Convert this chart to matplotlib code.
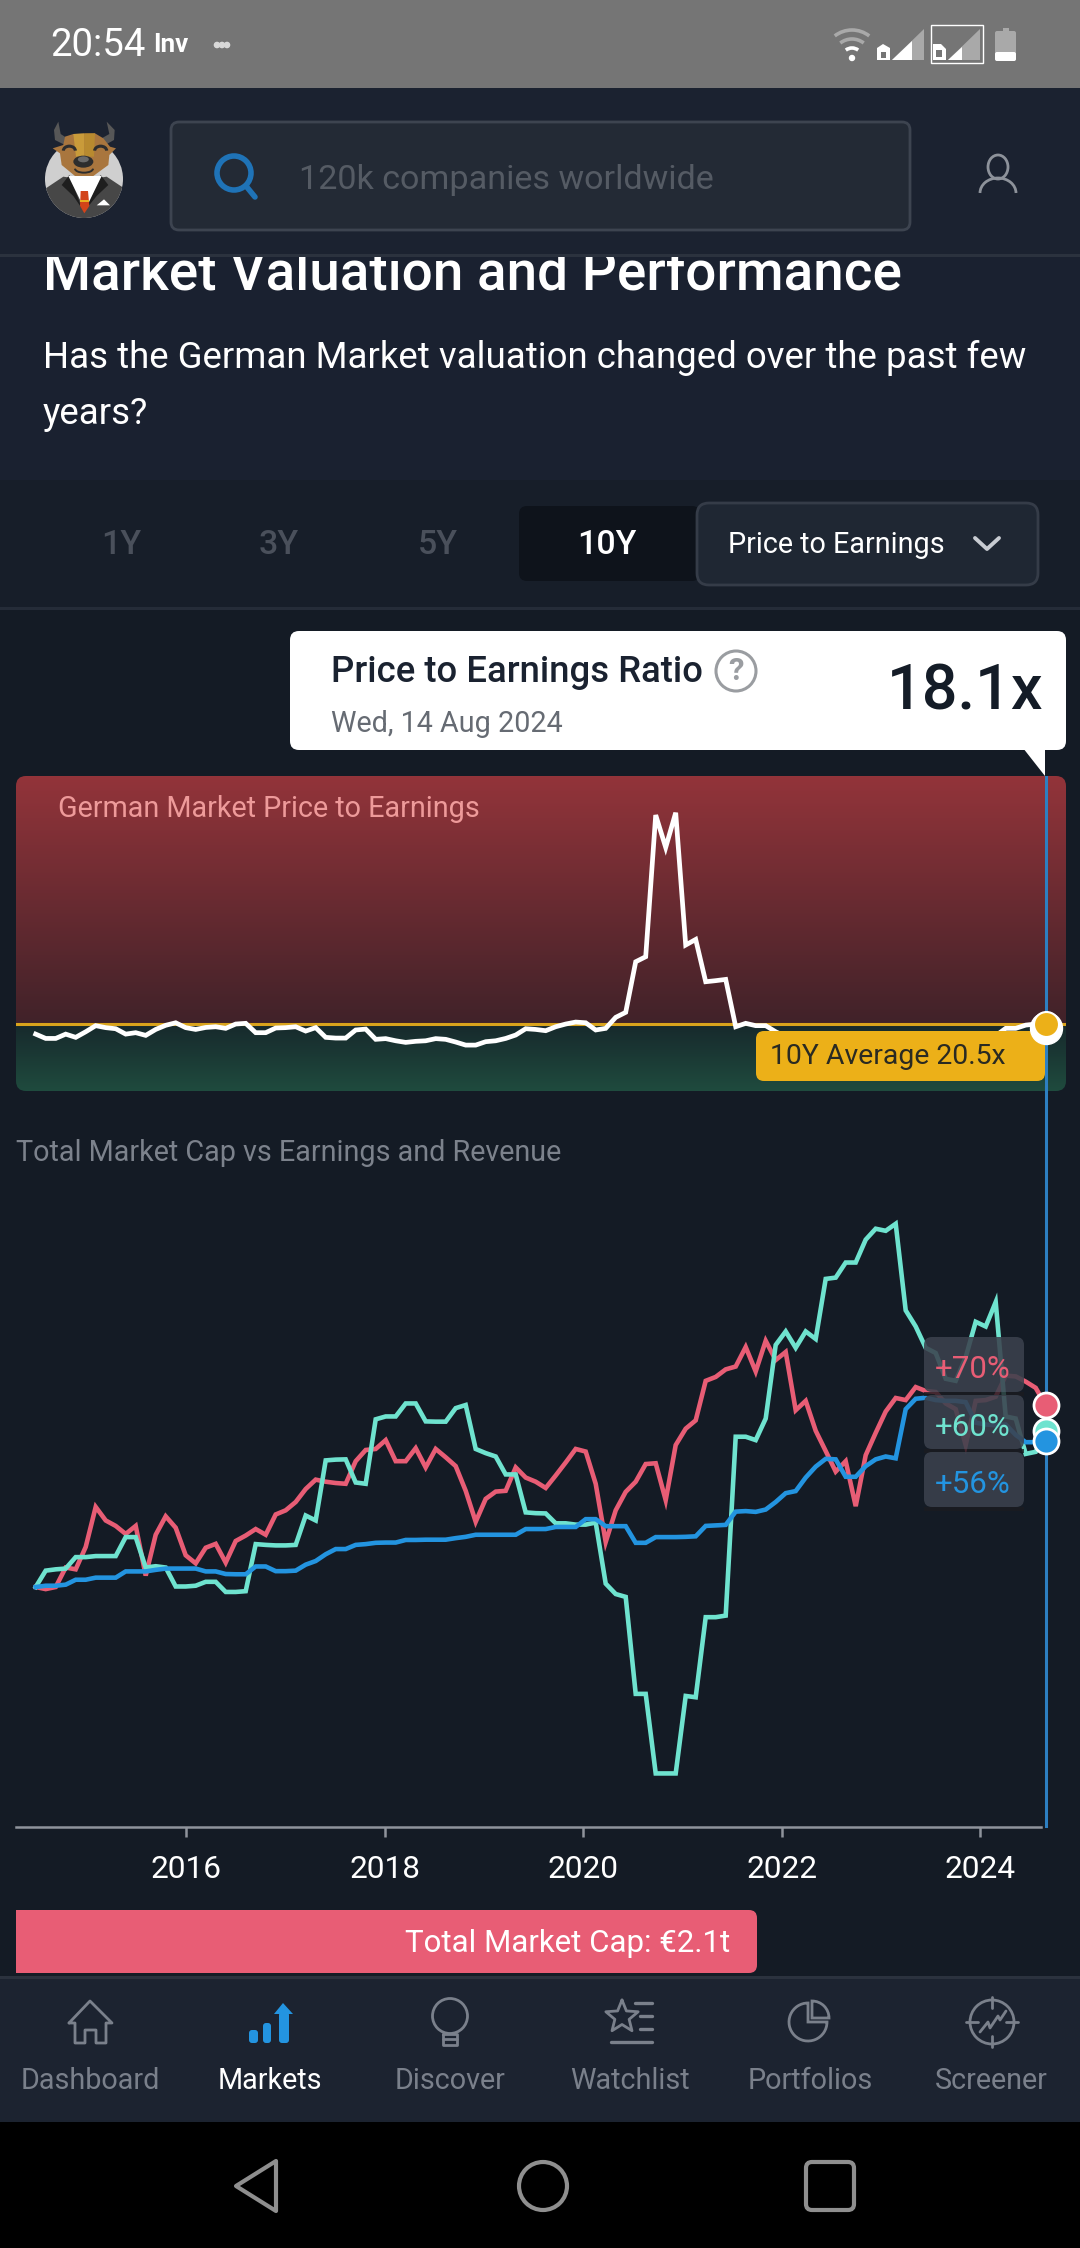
import matplotlib
matplotlib.use('Agg')
from matplotlib import pyplot as plt
from matplotlib.patches import FancyBboxPatch, Rectangle, Circle, Ellipse, Polygon, Wedge, Arc
import numpy as np

plt.rcParams['font.family'] = ['Roboto', 'DejaVu Sans']

# German market P/E, 102 samples over 10 years (hidden part behind the label is a guess)
pe_ratio = [14.9, 12.5, 12.5, 14.9, 13.1, 16.2, 19.6, 18.5, 17.9, 14.9, 15.7, 14.2, 17.5, 19.8, 21.2, 18.5, 17.5,
            18.6, 19.0, 18.1, 20.5, 20.9, 15.7, 15.7, 18.3, 18.5, 19.0, 16.6, 18.5, 13.1, 12.7, 12.7, 17.2, 17.7,
            12.0, 12.4, 11.2, 10.3, 10.9, 11.2, 12.4, 12.0, 10.5, 8.8, 8.8, 10.7, 11.2, 12.5, 14.4, 17.9, 17.5,
            16.8, 19.0, 20.5, 21.6, 21.2, 17.2, 18.1, 24.2, 27.0, 55.1, 57.9, 136.6, 118.6, 137.9, 64.4, 67.5,
            44.0, 44.6, 45.3, 19.0, 20.9, 19.6, 19.6, 16.2, 13.5, 13.0, 13.5, 14.0, 13.5, 13.0, 12.5, 13.0, 13.5,
            14.0, 14.0, 13.5, 13.0, 13.5, 14.0, 14.0, 13.5, 13.5, 14.0, 14.0, 14.0, 14.0, 18.1, 18.1, 19.9, 20.5, 18.1]
pe_average = 20.5

# percent change since the start
market_cap = [0, -0.8, 0, 7.5, 6.8, 15.4, 30.8, 25.6, 23.5, 20.4, 23.5, 4.4, 20.1, 27.2, 22.8, 12.2, 9.1, 15.1, 16.6,
              9.4, 17.7, 19.8, 22.3, 20.1, 27.9, 29.5, 32.7, 37.7, 41.3, 40.5, 40.0, 39.7, 48.4, 52.7, 53.1, 56.5,
              48.4, 48.4, 53.4, 46.0, 53.1, 49.9, 46.5, 37.0, 25.1, 33.9, 36.7, 37.0, 46.0, 42.1, 40.5, 38.1, 42.9,
              47.9, 53.1, 52.1, 39.7, 17.3, 29.5, 36.6, 40.5, 47.3, 47.6, 33.4, 54.6, 60.9, 64.1, 79.3, 80.8, 83.7,
              84.8, 92.3, 82.9, 94.7, 87.3, 90.4, 68.0, 71.6, 60.1, 52.3, 44.4, 48.4, 31.1, 50.7, 59.3, 67.5, 72.7,
              71.9, 76.9, 75.4, 75.0, 70.6, 68.4, 54.6, 71.6, 71.9, 73.2, 81.3, 81.0, 79.0, 76.6, 69.9]
earnings = [0, 6.3, 6.8, 7.1, 11.5, 11.5, 11.9, 11.9, 11.9, 19.2, 19.2, 7.5, 8.0, 7.5, 0.2, 0.2, 0.5, 2.0, 2.0, -1.9,
            -1.9, -1.6, 16.5, 16.2, 16.0, 16.0, 16.2, 27.5, 25.6, 48.7, 49.0, 49.1, 40.2, 39.7, 64.5, 65.6, 65.6,
            70.6, 70.6, 63.7, 63.6, 63.6, 68.8, 70.0, 53.1, 51.5, 50.2, 43.3, 43.3, 28.7, 28.4, 28.3, 24.5, 24.5,
            24.0, 24.0, 24.8, 1.3, -2.7, -3.8, -41.1, -41.1, -71.7, -71.7, -71.7, -41.9, -42.4, -11.6, -11.6, -11.0,
            57.8, 57.8, 56.5, 64.8, 93.1, 98.3, 92.0, 98.3, 95.4, 118.5, 119.0, 124.8, 124.8, 133.6, 137.8, 137.0,
            139.7, 106.4, 100.2, 92.0, 90.0, 80.1, 79.3, 88.4, 102.0, 100.2, 109.6, 65.6, 64.8, 51.2, 52.0, 60.1]
revenue = [0, 0.5, 0.5, 0.9, 2.8, 2.8, 3.6, 3.6, 3.6, 6.0, 6.0, 6.0, 6.6, 7.1, 7.1, 7.1, 7.1, 6.0, 6.0, 5.0, 4.9, 4.9,
           7.9, 7.9, 6.1, 6.1, 6.3, 8.6, 10.0, 12.6, 14.6, 14.6, 16.2, 16.5, 17.0, 17.1, 17.1, 18.1, 18.1, 18.2, 18.2,
           18.2, 18.8, 19.3, 20.1, 20.1, 20.1, 20.1, 20.1, 22.3, 22.3, 22.3, 23.1, 23.1, 23.1, 26.1, 26.1, 23.4, 23.4,
           23.4, 17.0, 17.0, 19.2, 19.2, 19.2, 19.3, 19.5, 23.5, 23.7, 23.9, 29.0, 29.2, 28.9, 29.8, 32.7, 36.1, 36.9,
           42.1, 46.3, 49.3, 49.1, 42.4, 42.4, 46.5, 49.1, 50.2, 49.5, 68.4, 72.4, 72.8, 71.9, 71.6, 71.6, 71.1, 63.2,
           62.5, 62.2, 62.5, 58.5, 55.7, 55.7, 56.2]

year_pos = [15.03, 34.93, 54.73, 74.63, 94.43]
year_labels = ['2016', '2018', '2020', '2022', '2024']
change_labels = ['+70%', '+60%', '+56%']
nav_labels = ['Dashboard', 'Markets', 'Discover', 'Watchlist', 'Portfolios', 'Screener']
tab_labels = ['1Y', '3Y', '5Y']

RED = '#e85d75'
TEAL = '#6fe3cf'
BLUE = '#2394e0'
YELLOW = '#ecb018'
W, H = 1080, 2248

fig = plt.figure(figsize=(W / 100, H / 100), dpi=100, facecolor='#141b25')

ui = fig.add_axes([0, 0, 1, 1], zorder=0)
ui.set_xlim(0, W)
ui.set_ylim(H, 0)
ui.axis('off')


def label(axis, x, y, s, px, color='white', ha='left', weight='normal', z=20, **kw):
    axis.text(x, y + 2, s, fontsize=px * 0.72, color=color, ha=ha, va='center', fontweight=weight, zorder=z,
              transform=ui.transData, **kw)


def rect(x0, y0, x1, y1, color, z=1, **kw):
    ui.add_patch(Rectangle((x0, y0), x1 - x0, y1 - y0, facecolor=color, edgecolor='none', zorder=z, **kw))


def rbox(axis, x0, y0, x1, y1, r, color, edge='none', lw=0, z=2, alpha=None):
    p = FancyBboxPatch((x0 + r, y0 + r), x1 - x0 - 2 * r, y1 - y0 - 2 * r, boxstyle=f'round,pad={r}',
                       facecolor=color, edgecolor=edge, linewidth=lw, zorder=z, alpha=alpha,
                       transform=ui.transData)
    axis.add_patch(p)
    return p


def stroke(xs, ys, color, lw=2.0, z=12):
    ui.plot(xs, ys, color=color, lw=lw, zorder=z, solid_capstyle='round', solid_joinstyle='round')


def logo(pts, color, z, clip=None):
    p = Polygon([(30 + a / 3, 110 + b / 3) for a, b in pts], color=color, lw=0, zorder=z)
    ui.add_patch(p)
    if clip is not None:
        p.set_clip_path(clip)


# page sections
rect(0, 255, W, 480, '#1a2130')
rect(0, 480, W, 608, '#171e29')
rect(0, 607, W, 610, '#252c38', z=2)

label(ui, 43, 272, 'Market Valuation and Performance', 54.9, weight='medium', z=3)
label(ui, 43, 356, 'Has the German Market valuation changed over the past few', 36.6)
label(ui, 43, 412, 'years?', 36.6)

# status bar and header sit on top of the scrolled title
rect(0, 0, W, 88, '#757575', z=5)
rect(0, 88, W, 254, '#1b2230', z=5)
rect(0, 254, W, 257, '#2b323e', z=5)
label(ui, 50, 44, '20:54', 38.4, z=12)
label(ui, 153, 43, 'Inv', 26, weight='bold', z=12)
for cx in [217, 222, 227]:
    ui.add_patch(Circle((cx, 45), 2.6, color='#d8d8d8', zorder=12))

# wifi, signal, battery
for r, c in [(28, '#a9a9a9'), (19, '#a9a9a9'), (10, 'white')]:
    ui.add_patch(Arc((852, 58), r * 2, r * 2, theta1=232, theta2=308, color=c, lw=2.6, zorder=12))
ui.add_patch(Circle((852, 58), 2.5, color='white', zorder=12))
ui.add_patch(Polygon([(892, 60), (924, 29), (924, 60)], color='#a9a9a9', lw=0, zorder=12))
ui.add_patch(Polygon([(892, 60), (912, 41), (912, 60)], color='white', lw=0, zorder=12))
ui.add_patch(Polygon([(877, 60), (877, 48), (883, 44), (890, 48), (890, 60)], color='white', lw=0, zorder=12))
rect(881, 52, 886, 58, '#757575', z=13)
ui.add_patch(Rectangle((931, 25), 52, 38, facecolor='none', edgecolor='white', lw=1, zorder=12))
ui.add_patch(Polygon([(948, 60), (980, 29), (980, 60)], color='#a9a9a9', lw=0, zorder=12))
ui.add_patch(Polygon([(948, 60), (962, 47), (962, 60)], color='white', lw=0, zorder=12))
ui.add_patch(Polygon([(933, 60), (933, 44), (941, 44), (946, 49), (946, 60)], color='white', lw=0, zorder=12))
rect(936, 50, 942, 57, '#757575', z=13)
rbox(ui, 995, 31, 1016, 61, 2, '#a9a9a9', z=12)
rect(1003, 28, 1009, 32, '#a9a9a9', z=12)
rbox(ui, 995, 52, 1016, 61, 2, 'white', z=13)

# logo
disc = Ellipse((84, 179), 78, 78, color='#cfcfcf', lw=0, zorder=6)
ui.add_patch(disc)
logo([(40, 240), (100, 200), (165, 210), (230, 200), (290, 240), (290, 340), (40, 340)], '#474747', 7, clip=disc)
logo([(95, 225), (118, 195), (150, 280), (162, 305), (130, 258)], '#1e1e1e', 8)
logo([(235, 225), (212, 195), (176, 280), (162, 305), (200, 258)], '#1e1e1e', 8)
logo([(115, 198), (215, 198), (165, 300)], 'white', 8)
logo([(152, 243), (174, 243), (178, 288), (163, 310), (150, 288)], '#d2431a', 9)
logo([(151, 270), (176, 270), (176, 276), (151, 276)], '#e8b020', 10)
logo([(200, 286), (240, 286), (222, 268)], 'white', 9)
logo([(85, 35), (72, 60), (75, 90), (105, 105), (112, 85), (92, 72)], '#575757', 7)
logo([(230, 35), (254, 60), (252, 90), (225, 105), (215, 85), (238, 72)], '#575757', 7)
logo([(105, 80), (130, 72), (195, 70), (220, 85), (240, 110), (258, 115), (238, 135), (235, 165), (190, 198),
      (135, 198), (95, 165), (90, 130), (68, 115), (100, 105)], '#a9763e', 9)
logo([(130, 72), (163, 70), (163, 140), (138, 140)], '#c99b3a', 10)
logo([(163, 70), (195, 70), (192, 140), (163, 140)], '#b88a2f', 10)
ui.add_patch(Ellipse((30 + 160 / 3, 110 + 155 / 3), 20, 12, color='#2d2d2d', lw=0, zorder=11))
ui.add_patch(Ellipse((30 + 160 / 3, 110 + 148 / 3), 11, 6, color='#6a6a6a', lw=0, zorder=12))
ui.add_patch(Arc((30 + 118 / 3, 110 + 122 / 3), 12, 9, theta1=180, theta2=360, color='#2d2d2d', lw=2.2, zorder=11))
ui.add_patch(Arc((30 + 212 / 3, 110 + 122 / 3), 12, 9, theta1=180, theta2=360, color='#2d2d2d', lw=2.2, zorder=11))
ui.add_patch(Arc((30 + 162 / 3, 110 + 176 / 3), 18, 8, theta1=0, theta2=180, color='#2d2d2d', lw=1.4, zorder=11))

# search box
rbox(ui, 171, 122, 910, 230, 8, '#232a35', edge='#3d4450', lw=2, z=6)
ui.add_patch(Circle((234, 173), 17, facecolor='none', edgecolor='#1f73b7', lw=4, zorder=8))
stroke([246, 255], [186, 197], '#1f73b7', lw=4, z=8)
label(ui, 299, 178, '120k companies worldwide', 34.1, color='#555b64', z=8)
ui.add_patch(Ellipse((998, 167), 20, 24, facecolor='none', edgecolor='#8d929a', lw=2, zorder=8))
ui.add_patch(Arc((998, 193), 36, 30, theta1=180, theta2=360, color='#8d929a', lw=2, zorder=8))

# range tabs
for x_tab, s in zip([121, 279, 438], tab_labels):
    label(ui, x_tab, 543, s, 34, color='#4a505b', ha='center', weight='medium')
rbox(ui, 519, 506, 700, 581, 8, '#0e131b', z=3)
label(ui, 607, 543, '10Y', 34, ha='center', weight='medium')
rbox(ui, 697, 503, 1038, 585, 12, '#1f2733', edge='#353c48', lw=2, z=4)
label(ui, 728, 543, 'Price to Earnings', 28.8)
stroke([975, 987, 999], [538, 549, 538], '#c8ccd2', lw=2.8)

# tooltip
rbox(ui, 290, 631, 1066, 750, 9, 'white', z=6)
ui.add_patch(Polygon([(1023, 748), (1045, 748), (1045, 776)], color='white', lw=0, zorder=6))
label(ui, 331, 671, 'Price to Earnings Ratio', 36.5, color='#1a2230', weight='medium')
ui.add_patch(Circle((736, 671), 20, facecolor='none', edgecolor='#9a9da1', lw=2.2, zorder=8))
label(ui, 736, 669, '?', 31, color='#9a9da1', ha='center', weight='bold')
label(ui, 331, 722, 'Wed, 14 Aug 2024', 28.7, color='#666b73')
label(ui, 1044, 690, '18.1x', 63, color='#141c27', ha='right', weight='medium')

label(ui, 16, 1151, 'Total Market Cap vs Earnings and Revenue', 28.7, color='#7c828c')


def px_axes(x0, y0, x1, y1):
    a = fig.add_axes([x0 / W, 1 - y1 / H, (x1 - x0) / W, (y1 - y0) / H], zorder=1)
    a.patch.set_alpha(0)
    return a


x = np.arange(len(pe_ratio))
xlim = (-1.97, 103.03)

# P/E panel
ax_pe = px_axes(16, 776, 1066, 1091)
ax_pe.set_xlim(*xlim)
ax_pe.set_ylim(-16.7, 158.3)
ax_pe.axis('off')

top = np.array(matplotlib.colors.to_rgb('#93343a'))
mid = np.array(matplotlib.colors.to_rgb('#402229'))
low = np.array(matplotlib.colors.to_rgb('#17292c'))
end = np.array(matplotlib.colors.to_rgb('#1f4b3e'))
split = 248
grad = np.vstack([np.linspace(top, mid, split), np.linspace(low, end, 315 - split)])[:, None, :]
clip = FancyBboxPatch((26, 786), 1030, 295, boxstyle='round,pad=10', transform=ui.transData)
img = ax_pe.imshow(grad, extent=[*xlim, -16.7, 158.3], aspect='auto', zorder=0)
img.set_clip_path(clip)

ax_pe.plot(x, pe_ratio, color='white', lw=3.4, solid_joinstyle='miter', zorder=3)
ax_pe.axhline(pe_average, color='#d9a31c', lw=2.2, zorder=2)
ax_pe.axvline(x[-1], color='#2d7fc1', lw=2.2, zorder=4)
rbox(ax_pe, 756, 1031, 1045, 1081, 8, YELLOW, z=5)
label(ax_pe, 770, 1055, '10Y Average 20.5x', 28.4, color='#2a2a22', z=6)
label(ax_pe, 58, 807, 'German Market Price to Earnings', 28.8, color='#ee9a9a', z=6)
ax_pe.plot(x[-1], pe_ratio[-1], 'o', ms=23, color='white', zorder=6, clip_on=False)
ax_pe.plot(x[-1], pe_average, 'o', ms=18, color=YELLOW, mec='white', mew=1.5, zorder=7, clip_on=False)

# cap / earnings / revenue chart, the cursor line runs up to the panel above
ax = px_axes(16, 1200, 1066, 1827)
ax.set_xlim(*xlim)
ax.set_ylim(-92.3, 148.85)
ax.axvline(x[-1], ymin=0.002, ymax=1.18, color='#2d7fc1', lw=2.2, zorder=1, clip_on=False)
ax.plot(x, market_cap, color=RED, lw=3.3, solid_joinstyle='miter', zorder=2)
ax.plot(x, earnings, color=TEAL, lw=3.3, solid_joinstyle='miter', zorder=3)
ax.plot(x, revenue, color=BLUE, lw=3.3, solid_joinstyle='miter', zorder=4)

for side in ['top', 'left', 'right']:
    ax.spines[side].set_visible(False)
ax.spines['bottom'].set_color('#8f949c')
ax.spines['bottom'].set_linewidth(1.8)
ax.spines['bottom'].set_bounds(xlim[0], 100.5)
ax.set_yticks([])
ax.set_xticks(year_pos, year_labels)
ax.tick_params(axis='x', length=7.5, width=1.8, color='#8f949c', labelcolor='white', labelsize=22.8, pad=13)

for (y0, y1), s, c in zip([(1337, 1392), (1395, 1449), (1452, 1507)], change_labels, [RED, TEAL, BLUE]):
    rbox(ax, 924, y0, 1024, y1, 8, '#3b414d', z=6, alpha=0.88)
    ax.add_patch(Rectangle((924, y1), 100, 4, facecolor='#1b1b20', alpha=0.8, lw=0, zorder=6, transform=ui.transData))
    label(ax, 973, (y0 + y1) / 2 + 3, s, 31.3, color=c, ha='center', z=7)

for series, c, z in [(market_cap, RED, 8), (earnings, TEAL, 9), (revenue, BLUE, 10)]:
    ax.plot(x[-1], series[-1], 'o', ms=18, color=c, mec='white', mew=2, zorder=z, clip_on=False)

# total market cap bar
rbox(ui, 16, 1910, 757, 1973, 8, RED, z=3)
rect(16, 1910, 40, 1973, RED, z=3)
label(ui, 730, 1941, 'Total Market Cap: €2.1t', 31.3, ha='right')

# bottom nav
rect(0, 1977, W, 2122, '#1c2330', z=5)
rect(0, 1976, W, 1979, '#2b323e', z=5)
rect(0, 2122, W, H, '#000000', z=5)
GREY = '#7a808b'
for cx, s in zip([90, 270, 450, 630, 810, 991], nav_labels):
    label(ui, cx, 2079, s, 28.8, color='white' if s == 'Markets' else GREY, ha='center', z=8)

stroke([69, 90, 112, 106, 106, 96, 96, 85, 85, 75, 75, 69], [2023, 2001, 2023, 2023, 2043, 2043, 2030, 2030, 2043, 2043, 2023, 2023], GREY)
rbox(ui, 249, 2030, 258, 2043, 3, BLUE, z=8)
rbox(ui, 263, 2023, 271, 2043, 3, BLUE, z=8)
rbox(ui, 279, 2012, 289, 2043, 3, BLUE, z=8)
ui.add_patch(Polygon([(274, 2014), (283, 2003), (293, 2014)], color=BLUE, lw=0, zorder=8))
ui.add_patch(Ellipse((450, 2016), 35, 35, facecolor='none', edgecolor=GREY, lw=2, zorder=8))
stroke([443, 443, 457, 457, 443], [2034, 2045, 2045, 2034, 2034], GREY)
stroke([443, 457], [2039, 2039], GREY)
star_a = np.deg2rad(np.arange(0, 361, 36) - 90)
star_r = np.array([17, 7.5] * 5 + [17])
stroke(622 + star_r * np.cos(star_a), 2017 + star_r * np.sin(star_a), GREY)
for x0, yy in [(635, 2003), (640, 2016), (640, 2029), (611, 2042)]:
    stroke([x0, 652], [yy, yy], GREY, lw=2.4)
ui.add_patch(Wedge((808, 2022), 19, 0, 270, facecolor='none', edgecolor=GREY, lw=2, zorder=8))
ui.add_patch(Wedge((812, 2018), 17, 270, 360, facecolor='none', edgecolor=GREY, lw=2, zorder=8))
ui.add_patch(Circle((992, 2022), 22, facecolor='none', edgecolor=GREY, lw=2, zorder=8))
stroke([992, 992], [1997, 2008], GREY)
stroke([992, 992], [2036, 2047], GREY)
stroke([966, 978], [2022, 2022], GREY)
stroke([1006, 1018], [2022, 2022], GREY)
stroke([980, 988, 990, 998, 1000, 1006], [2032, 2022, 2028, 2016, 2020, 2011], GREY)

# android buttons
NAVBTN = '#8f8f8f'
ui.add_patch(Polygon([(276, 2161), (276, 2211), (236, 2186)], closed=True, facecolor='none', edgecolor=NAVBTN, lw=3, joinstyle='round', zorder=8))
ui.add_patch(Ellipse((543, 2186), 48, 48, facecolor='none', edgecolor=NAVBTN, lw=3, zorder=8))
rbox(ui, 806, 2162, 854, 2210, 6, 'none', edge=NAVBTN, lw=3, z=8)

fig.savefig('out.png', dpi=100, facecolor=fig.get_facecolor())
